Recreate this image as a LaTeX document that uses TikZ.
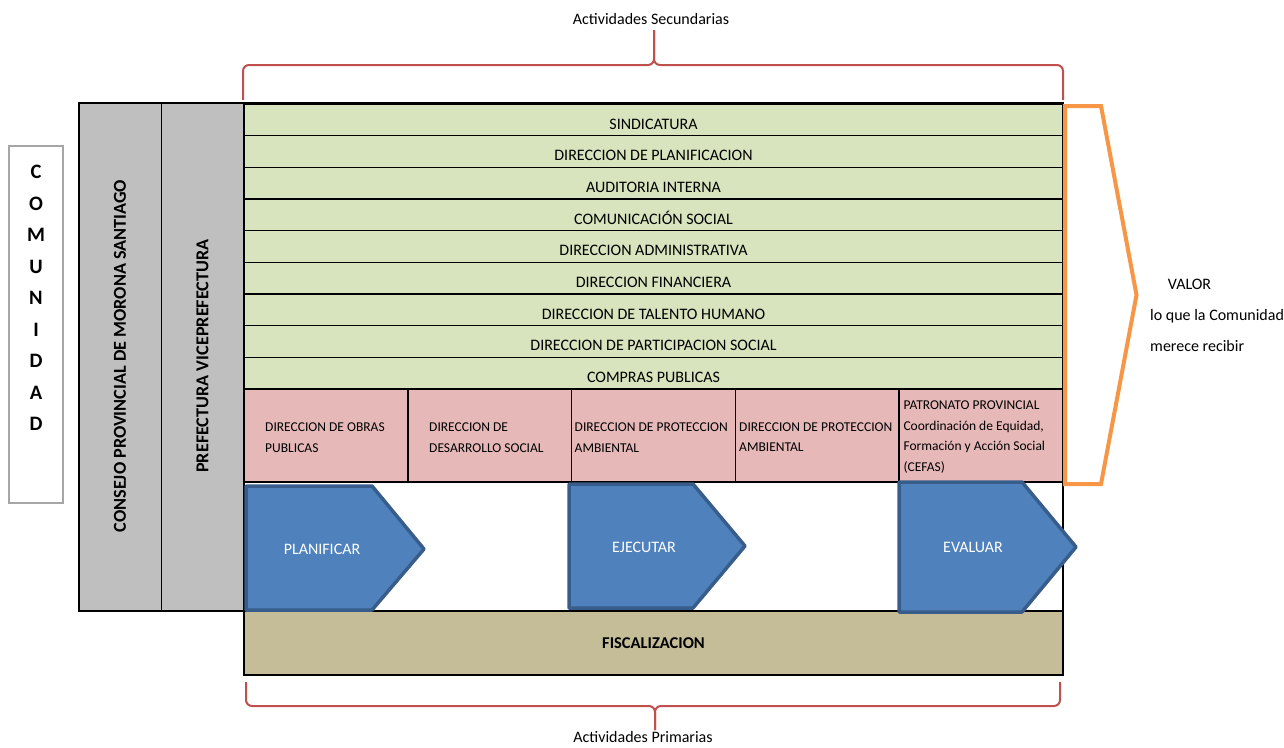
\documentclass[tikz,border=0pt]{standalone}
\usepackage{fontspec}
\setmainfont{Carlito}

\definecolor{rowgreen}{HTML}{D7E4BD}
\definecolor{cellpink}{HTML}{E6B9B8}
\definecolor{colgray}{HTML}{BFBFBF}
\definecolor{fiscaltan}{HTML}{C4BD97}
\definecolor{chevblue}{HTML}{4F81BD}
\definecolor{chevedge}{HTML}{385D8A}
\definecolor{bracered}{HTML}{C0504D}
\definecolor{valororange}{HTML}{F79646}
\definecolor{boxgray}{HTML}{A6A6A6}

\tikzset{
  rowbox/.style={draw=black, line width=1.5pt, fill=rowgreen, minimum width=819pt, minimum height=31.67pt, inner sep=0pt, text height=18.5pt, text depth=0pt, font=\fontsize{16}{19}\selectfont},
  cellbox/.style={draw=black, line width=1.5pt, fill=cellpink, minimum width=163.8pt, minimum height=93pt, inner sep=0pt},
  celltext/.style={anchor=north west, inner sep=0pt, align=left, font=\fontsize{13.5}{20.5}\selectfont},
  colbox/.style={draw=black, line width=1pt, fill=colgray, rotate=90, minimum width=508pt, minimum height=82.5pt, inner sep=0pt, font=\bfseries\fontsize{18.2}{20}\selectfont},
  fiscalbox/.style={draw=black, line width=2pt, fill=fiscaltan, minimum width=819pt, minimum height=64pt, inner sep=0pt, font=\bfseries\fontsize{16.5}{19}\selectfont},
  chevron/.style={draw=chevedge, line width=3.5pt, fill=chevblue, line join=round},
  chevtext/.style={text=white, inner sep=0pt, font=\fontsize{16}{19}\selectfont},
  bracket/.style={draw=bracered, line width=2pt, rounded corners=6pt},
  valorline/.style={draw=valororange, line width=4pt},
  plain/.style={inner sep=0pt, font=\fontsize{16}{19}\selectfont},
  letters/.style={inner sep=0pt, align=center, font=\bfseries\fontsize{20.5}{31.5}\selectfont}
}

\begin{document}
\begin{tikzpicture}[x=1pt, y=-1pt]
    \useasboundingbox (0,0) rectangle (1284,747);

    \node[draw=boxgray, line width=2pt, minimum width=54pt, minimum height=357pt] (comunidad) at (36.3,324.5) {};
    \node[letters] (comunidadtxt) at (36,298) {C\\O\\M\\U\\N\\I\\D\\A\\D};

    \node[colbox] (consejo) at (120,356) {CONSEJO PROVINCIAL DE MORONA SANTIAGO};
    \node[colbox] (prefectura) at (202.5,356) {PREFECTURA VICEPREFECTURA};

    \node[rowbox] (sindicatura) at (653.5,119.83) {SINDICATURA};
    \node[rowbox] (planificacion) at (653.5,151.5) {DIRECCION DE PLANIFICACION};
    \node[rowbox] (auditoria) at (653.5,183.17) {AUDITORIA INTERNA};
    \node[rowbox] (comunicacion) at (653.5,214.83) {COMUNICACIÓN SOCIAL};
    \node[rowbox] (administrativa) at (653.5,246.5) {DIRECCION ADMINISTRATIVA};
    \node[rowbox] (financiera) at (653.5,278.17) {DIRECCION FINANCIERA};
    \node[rowbox] (talento) at (653.5,309.83) {DIRECCION DE TALENTO HUMANO};
    \node[rowbox] (participacion) at (653.5,341.5) {DIRECCION DE PARTICIPACION SOCIAL};
    \node[rowbox] (compras) at (653.5,373.17) {COMPRAS PUBLICAS};

    \node[cellbox] (obras) at (325.9,435.5) {};
    \node[cellbox] (desarrollo) at (489.7,435.5) {};
    \node[cellbox] (ambiental) at (653.5,435.5) {};
    \node[cellbox] (ambientaldos) at (817.3,435.5) {};
    \node[cellbox] (patronato) at (981.1,435.5) {};
    \node[celltext] (obrastxt) at (265,422.7) {DIRECCION DE OBRAS\\PUBLICAS};
    \node[celltext] (desarrollotxt) at (429,422.7) {DIRECCION DE\\DESARROLLO SOCIAL};
    \node[celltext] (ambientaltxt) at (574.5,422.7) {DIRECCION DE PROTECCION\\AMBIENTAL};
    \node[celltext] (ambientaldostxt) at (739,422.2) {DIRECCION DE PROTECCION\\AMBIENTAL};
    \node[celltext] (patronatotxt) at (903.3,401) {PATRONATO PROVINCIAL\\Coordinación de Equidad,\\Formación y Acción Social\\(CEFAS)};

    \node[fiscalbox] (fiscal) at (653.5,643) {FISCALIZACION};

    \draw[line width=2.5pt] (79,103) rectangle (1063,611);
    \draw[line width=2.5pt] (244,103) -- (244,611);

    \draw[chevron] (246,486) -- (372,486) -- (424,549) -- (372,610) -- (246,610) -- cycle;
    \draw[chevron] (569,484) -- (693,484) -- (745,546) -- (693,608) -- (569,608) -- cycle;
    \draw[chevron] (899,482) -- (1022,482) -- (1076,547) -- (1022,612) -- (899,612) -- cycle;
    \node[chevtext] (planificar) at (322,549) {PLANIFICAR};
    \node[chevtext] (ejecutar) at (644,547) {EJECUTAR};
    \node[chevtext] (evaluar) at (973,547) {EVALUAR};

    \draw[valorline] (1065,106) -- (1101,106) -- (1136.5,295) -- (1101,484) -- (1065,484) -- cycle;
    \node[plain, anchor=base west] (valor) at (1167.7,289) {VALOR};
    \node[plain, anchor=base west] (loque) at (1150,320) {lo que la Comunidad};
    \node[plain, anchor=base west] (merece) at (1150,351.7) {merece recibir};

    \coordinate (secleft) at (243,100);
    \coordinate (secright) at (1063,100);
    \coordinate (secmid) at (654,65);
    \coordinate (sectip) at (654,30);
    \draw[bracket] (secleft) |- (secmid) -- (sectip);
    \draw[bracket] (secright) |- (secmid) -- (sectip);
    \node[plain] (secundarias) at (651,19) {Actividades Secundarias};

    \coordinate (primleft) at (246,682);
    \coordinate (primright) at (1060,682);
    \coordinate (primmid) at (655,706);
    \coordinate (primtip) at (655,730);
    \draw[bracket] (primleft) |- (primmid) -- (primtip);
    \draw[bracket] (primright) |- (primmid) -- (primtip);
    \node[plain] (primarias) at (643,737) {Actividades Primarias};
\end{tikzpicture}
\end{document}
